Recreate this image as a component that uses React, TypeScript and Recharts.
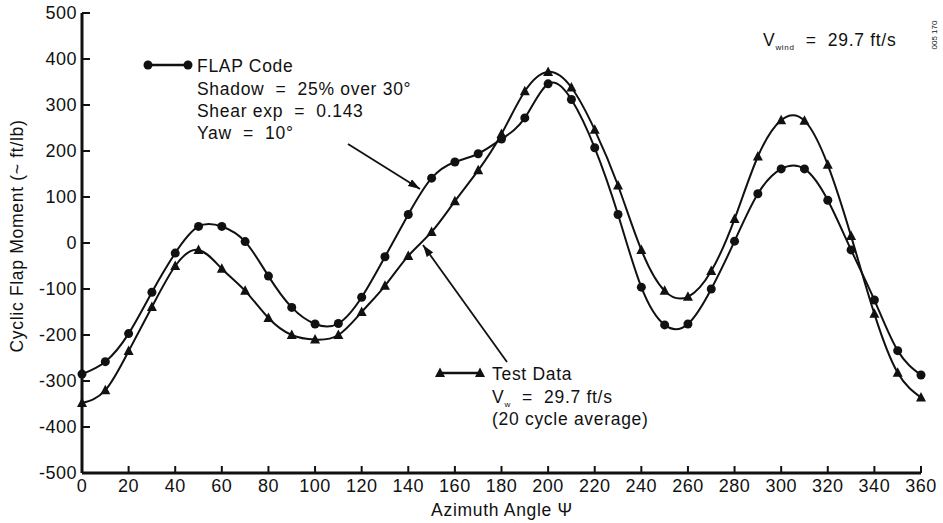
import { LineChart, Line, XAxis, YAxis } from 'recharts';

// azimuth angle (deg) and cyclic flap moment readings
const angles = [0, 10, 20, 30, 40, 50, 60, 70, 80, 90, 100, 110, 120, 130, 140, 150, 160, 170, 180,
  190, 200, 210, 220, 230, 240, 250, 260, 270, 280, 290, 300, 310, 320, 330, 340, 350, 360];
const flapCode = [-285, -258, -197, -107, -22, 36, 36, 3, -72, -140, -176, -175, -118, -30, 62, 141, 176, 194, 226,
  272, 346, 312, 207, 62, -96, -178, -176, -100, 4, 107, 161, 161, 93, -15, -124, -234, -287];
const testData = [-348, -320, -235, -139, -50, -15, -56, -104, -163, -200, -210, -200, -150, -93, -28, 24, 91, 158, 237,
  330, 372, 338, 246, 125, -15, -104, -117, -61, 52, 188, 267, 266, 170, 15, -154, -282, -336];
const xTicks = [0, 20, 40, 60, 80, 100, 120, 140, 160, 180, 200, 220, 240, 260, 280, 300, 320, 340, 360];
const yTicks = [-500, -400, -300, -200, -100, 0, 100, 200, 300, 400, 500];

const INK = '#111';
const FONT = '"Liberation Sans", Arial, sans-serif';

const data = angles.map((a, i) => ({ angle: a, flap: flapCode[i], test: testData[i] }));

function BottomTick({ x, y, payload }: any) {
  return (
    <g>
      <line x1={x} x2={x} y1={y} y2={y - 7} stroke={INK} strokeWidth={2} />
      <text x={x} y={y + 19} textAnchor="middle" fill={INK} fontSize={18} fontFamily={FONT} letterSpacing={0.5}>
        {payload.value}
      </text>
    </g>
  );
}

function TopTick({ x, y }: any) {
  return <line x1={x} x2={x} y1={y} y2={y + 8} stroke={INK} strokeWidth={2} />;
}

function LeftTick({ x, y, payload }: any) {
  return (
    <g>
      <line x1={x} x2={x + 8} y1={y} y2={y} stroke={INK} strokeWidth={2} />
      <text x={x - 5} y={y + 6} textAnchor="end" fill={INK} fontSize={18} fontFamily={FONT} letterSpacing={0.5}>
        {payload.value}
      </text>
    </g>
  );
}

function RightTick({ x, y }: any) {
  return <line x1={x} x2={x - 8} y1={y} y2={y} stroke={INK} strokeWidth={2} />;
}

function Triangle({ cx, cy }: any) {
  if (cx == null || cy == null) return null;
  return <polygon points={`${cx},${cy - 5.5} ${cx - 5},${cy + 4} ${cx + 5},${cy + 4}`} fill={INK} />;
}

function Dot({ cx, cy }: any) {
  if (cx == null || cy == null) return null;
  return <circle cx={cx} cy={cy} r={4.5} fill={INK} />;
}

const txt = { fill: INK, fontSize: 17.5, fontFamily: FONT, letterSpacing: 0.7, style: { whiteSpace: 'pre' as const } };

export default function App() {
  return (
    <div style={{ position: 'absolute', left: 0, top: 0, width: 943, height: 523, background: '#fff' }}>
      <LineChart width={943} height={523} data={data} margin={{ top: 13, right: 22, bottom: 0, left: 0 }}>
        <XAxis
          dataKey="angle" type="number" domain={[0, 360]} ticks={xTicks} interval={0}
          height={50} tickSize={0} tickMargin={0} tickLine={false}
          axisLine={{ stroke: INK, strokeWidth: 3 }} tick={<BottomTick />}
        />
        <XAxis
          xAxisId="top" orientation="top" dataKey="angle" type="number" domain={[0, 360]} ticks={xTicks}
          interval={0} height={0} tickSize={0} tickMargin={0} tickLine={false}
          axisLine={{ stroke: INK, strokeWidth: 2.5 }} tick={<TopTick />}
        />
        <YAxis
          type="number" domain={[-500, 500]} ticks={yTicks} interval={0} width={82}
          tickSize={0} tickMargin={0} tickLine={false}
          axisLine={{ stroke: INK, strokeWidth: 3 }} tick={<LeftTick />}
        />
        <YAxis
          yAxisId="right" orientation="right" type="number" domain={[-500, 500]} ticks={yTicks} interval={0}
          width={0} tickSize={0} tickMargin={0} tickLine={false}
          axisLine={{ stroke: INK, strokeWidth: 2.5 }} tick={<RightTick />}
        />
        <Line type="natural" dataKey="test" stroke={INK} strokeWidth={2} dot={<Triangle />} activeDot={false} isAnimationActive={false} />
        <Line type="natural" dataKey="flap" stroke={INK} strokeWidth={2} dot={<Dot />} activeDot={false} isAnimationActive={false} />
      </LineChart>

      <svg width={943} height={523} style={{ position: 'absolute', left: 0, top: 0, pointerEvents: 'none' }}>
        <defs>
          <marker id="head" viewBox="0 0 12 8" refX="12" refY="4" markerWidth="12" markerHeight="8" orient="auto" markerUnits="userSpaceOnUse">
            <path d="M0,0 L12,4 L0,8 Z" fill={INK} />
          </marker>
        </defs>

        {/* FLAP code key */}
        <line x1={148} x2={188} y1={65} y2={65} stroke={INK} strokeWidth={2.5} />
        <circle cx={148} cy={65} r={4.5} fill={INK} />
        <circle cx={188} cy={65} r={4.5} fill={INK} />
        <text x={197} y={72} {...txt}>FLAP Code</text>
        <text x={197} y={95} {...txt}>Shadow  =  25% over 30°</text>
        <text x={197} y={117} {...txt}>Shear exp  =  0.143</text>
        <text x={197} y={139} {...txt}>Yaw  =  10°</text>
        <line x1={348} y1={144} x2={420} y2={189} stroke={INK} strokeWidth={1.8} markerEnd="url(#head)" />

        {/* test data key */}
        <line x1={440} x2={480} y1={373} y2={373} stroke={INK} strokeWidth={2.5} />
        <Triangle cx={440} cy={373} />
        <Triangle cx={480} cy={373} />
        <text x={492} y={380} {...txt}>Test Data</text>
        <text x={492} y={403} {...txt}>
          V<tspan fontSize={8} dy={4}>w</tspan><tspan dy={-4}>  =  29.7 ft/s</tspan>
        </text>
        <text x={492} y={425} {...txt}>(20 cycle average)</text>
        <line x1={507} y1={362} x2={423} y2={245} stroke={INK} strokeWidth={1.8} markerEnd="url(#head)" />

        <text x={763} y={46} {...txt}>
          V<tspan fontSize={8} dy={4}>wind</tspan><tspan dy={-4}>  =  29.7 ft/s</tspan>
        </text>
        <text x={937} y={35} transform="rotate(-90 937 35)" textAnchor="middle" fill={INK} fontSize={8} fontFamily={FONT}>
          005 170
        </text>

        <text x={17} y={236} transform="rotate(-90 17 236)" textAnchor="middle" dominantBaseline="central" {...txt}>
          Cyclic Flap Moment (~ ft/lb)
        </text>
        <text x={502} y={516} textAnchor="middle" {...txt}>Azimuth Angle Ψ</text>
      </svg>
    </div>
  );
}
